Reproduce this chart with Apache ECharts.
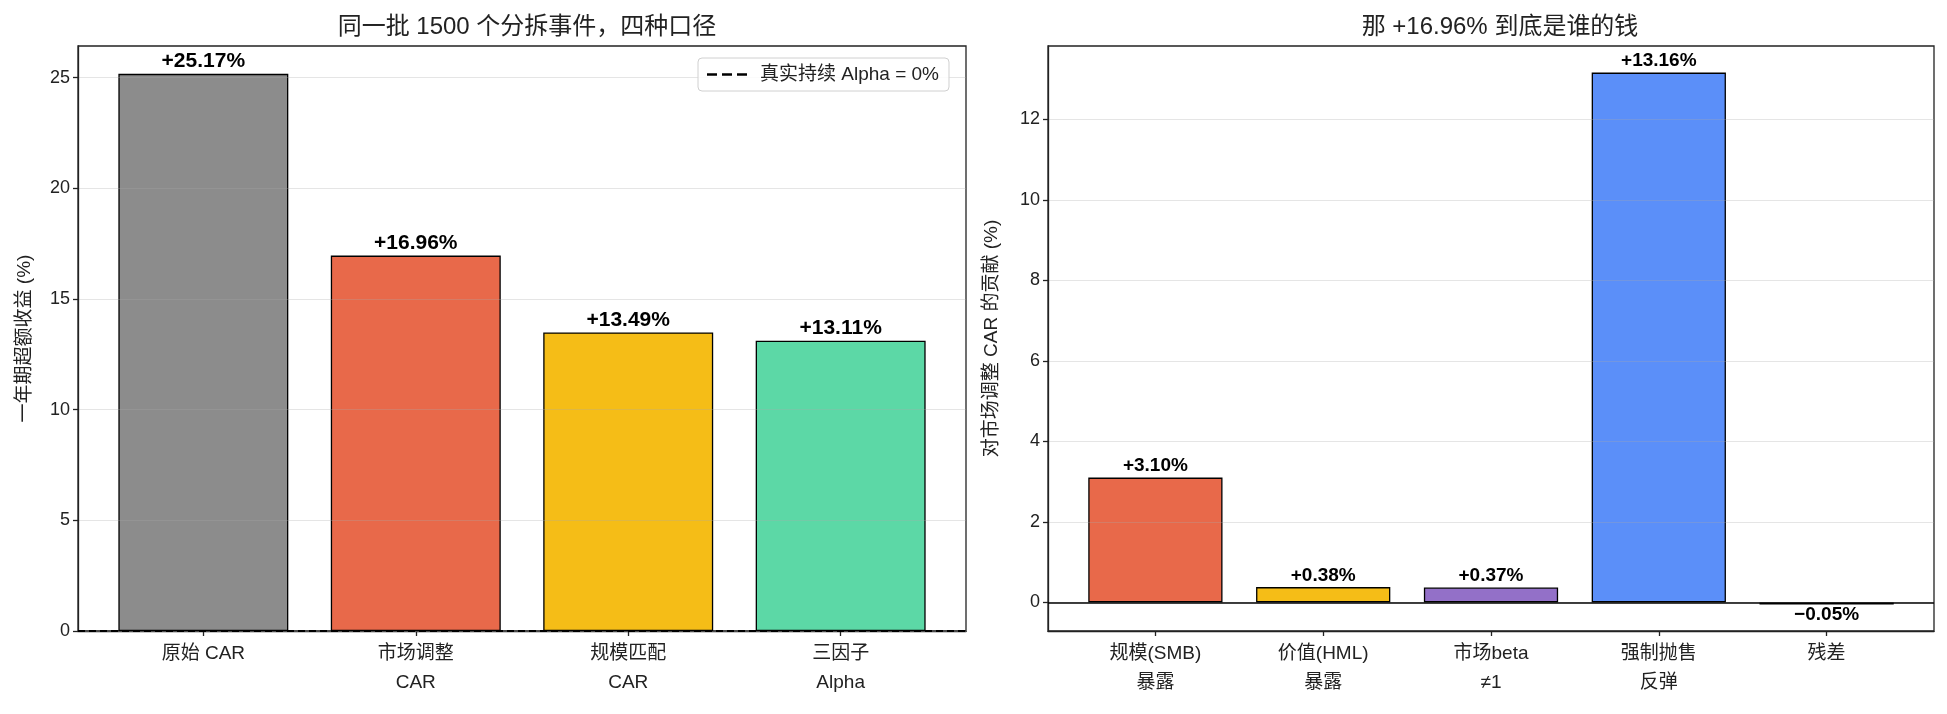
<!DOCTYPE html>
<html>
<head>
<meta charset="utf-8">
<title>分拆事件 CAR 对比</title>
<script src="https://cdn.jsdelivr.net/npm/echarts@6/dist/echarts.min.js"></script>
<style>
  html, body { margin: 0; padding: 0; background: #fff; }
  #chart { width: 1947px; height: 714px; }
</style>
</head>
<body>
<div id="chart"></div>
<script>
'use strict';

// 左图：四种口径
const leftCats = ['原始 CAR', '市场调整\nCAR', '规模匹配\nCAR', '三因子\nAlpha'];
const leftVals = [25.17, 16.96, 13.49, 13.11];
const leftColors = ['#8c8c8c', '#e8694a', '#f5bd17', '#5cd8a6'];
const leftTicks = [0, 5, 10, 15, 20, 25];

// 右图：市场调整 CAR 拆解
const rightCats = ['规模(SMB)\n暴露', '价值(HML)\n暴露', '市场beta\n≠1', '强制抛售\n反弹', '残差'];
const rightVals = [3.10, 0.38, 0.37, 13.16, -0.05];
const rightColors = ['#e8694a', '#f5bd17', '#9370c8', '#5b8ff9', '#222222'];
const rightTicks = [0, 2, 4, 6, 8, 10, 12];

const FONT = '"Liberation Sans", "Noto Sans CJK SC", sans-serif';
const INK = '#222';
// 图例里的虚线图标
const DASH_ICON = 'path://M0,0 h8 v2 h-8 z M12,0 h8 v2 h-8 z M24,0 h8 v2 h-8 z';

(function () {
  const chart = echarts.init(document.getElementById('chart'), null, { renderer: 'canvas' });

  // matplotlib 风格的轴范围：柱宽 0.8，两端各留 5% 边距
  function xRange(n) {
    const lo = -0.4, hi = n - 1 + 0.4, m = (hi - lo) * 0.05;
    return [lo - m, hi + m];
  }
  function yRange(vals) {
    const lo = Math.min(0, ...vals), hi = Math.max(0, ...vals), m = (hi - lo) * 0.05;
    return [lo < 0 ? lo - m : 0, hi + m];
  }
  const fmtPct = v => (v < 0 ? '\u2212' : '+') + Math.abs(v).toFixed(2) + '%';

  const lx = xRange(leftCats.length), rx = xRange(rightCats.length);
  const ly = yRange(leftVals), ry = yRange(rightVals);

  const gridL = { left: 78, right: 981, top: 46, bottom: 83 };
  const gridR = { left: 1048, right: 13, top: 46, bottom: 83 };
  const pxPerUnitL = (1947 - gridL.left - gridL.right) / (lx[1] - lx[0]);
  const pxPerUnitR = (1947 - gridR.left - gridR.right) / (rx[1] - rx[0]);

  function xAxisCfg(idx, range, cats) {
    return {
      type: 'value', gridIndex: idx, min: range[0], max: range[1],
      axisLine: { show: true, onZero: false, lineStyle: { color: INK, width: 1.3 } },
      axisTick: { show: true, length: 5, lineStyle: { color: INK, width: 1.3 },
        customValues: cats.map((c, i) => i) },
      axisLabel: { show: true, color: INK, fontSize: 19, fontFamily: FONT, lineHeight: 29, margin: 8,
        customValues: cats.map((c, i) => i),
        formatter: v => cats[Math.round(v)] || '' },
      splitLine: { show: false }
    };
  }
  function yAxisCfg(idx, range, ticks, name, gap) {
    return {
      type: 'value', gridIndex: idx, min: range[0], max: range[1], z: 3,
      name: name, nameLocation: 'middle', nameGap: gap, nameRotate: 90,
      nameTextStyle: { color: INK, fontSize: 19, fontFamily: FONT },
      axisLine: { show: true, onZero: false, lineStyle: { color: INK, width: 1.3 } },
      axisTick: { show: true, length: 5, lineStyle: { color: INK, width: 1.3 }, customValues: ticks },
      axisLabel: { color: INK, fontSize: 18, fontFamily: FONT, margin: 8, customValues: ticks },
      splitLine: { show: true, lineStyle: { color: 'rgba(170,170,170,0.3)', width: 1.2 } }
    };
  }
  function barData(vals, colors) {
    return vals.map((v, i) => ({
      value: [i, v],
      itemStyle: { color: colors[i] },
      label: { position: v < 0 ? 'bottom' : 'top', distance: v < 0 ? 1 : 2 }
    }));
  }

  const option = {
    backgroundColor: '#fff',
    animation: false,
    textStyle: { fontFamily: FONT },
    title: [
      { text: '同一批 1500 个分拆事件，四种口径', left: 522, top: 10, textAlign: 'center',
        textStyle: { fontSize: 24, fontWeight: 'normal', color: INK, fontFamily: FONT } },
      { text: '那 +16.96% 到底是谁的钱', left: 1495, top: 10, textAlign: 'center',
        textStyle: { fontSize: 24, fontWeight: 'normal', color: INK, fontFamily: FONT } }
    ],
    legend: {
      data: [{ name: '真实持续 Alpha = 0%', icon: DASH_ICON }],
      left: 698, top: 58,
      itemWidth: 40, itemHeight: 2.6, itemGap: 8,
      padding: [7, 10, 7, 9],
      borderColor: '#d0d0d0', borderWidth: 1, borderRadius: 4,
      backgroundColor: 'rgba(255,255,255,0.85)',
      textStyle: { fontSize: 19, color: INK, fontFamily: FONT, padding: [0, 0, 0, 8] }
    },
    grid: [
      Object.assign({ show: true, borderColor: INK, borderWidth: 1.3 }, gridL),
      Object.assign({ show: true, borderColor: INK, borderWidth: 1.3 }, gridR)
    ],
    xAxis: [xAxisCfg(0, lx, leftCats), xAxisCfg(1, rx, rightCats)],
    yAxis: [
      yAxisCfg(0, ly, leftTicks, '一年期超额收益 (%)', 44),
      yAxisCfg(1, ry, rightTicks, '对市场调整 CAR 的贡献 (%)', 47)
    ],
    series: [
      {
        name: '四种口径', type: 'bar', xAxisIndex: 0, yAxisIndex: 0,
        barWidth: pxPerUnitL * 0.8,
        data: barData(leftVals, leftColors),
        itemStyle: { borderColor: '#000', borderWidth: 1.3 },
        label: { show: true, color: '#000', fontSize: 21, fontWeight: 600, fontFamily: FONT,
          formatter: p => fmtPct(p.value[1]) }
      },
      {
        name: '真实持续 Alpha = 0%', type: 'line', xAxisIndex: 0, yAxisIndex: 0,
        data: [], symbol: 'none',
        lineStyle: { color: '#000', type: [7, 4], width: 2 },
        itemStyle: { color: '#000' },
        markLine: {
          silent: true, symbol: ['none', 'none'], label: { show: false },
          lineStyle: { color: '#000', type: [7, 4], width: 2 },
          data: [{ yAxis: 0 }]
        }
      },
      {
        name: '拆解', type: 'bar', xAxisIndex: 1, yAxisIndex: 1,
        barWidth: pxPerUnitR * 0.8,
        data: barData(rightVals, rightColors),
        itemStyle: { borderColor: '#000', borderWidth: 1.3 },
        label: { show: true, color: '#000', fontSize: 19, fontWeight: 600, fontFamily: FONT,
          formatter: p => fmtPct(p.value[1]) },
        markLine: {
          silent: true, symbol: ['none', 'none'], label: { show: false },
          lineStyle: { color: '#000', type: 'solid', width: 1.6 },
          data: [{ yAxis: 0 }]
        }
      }
    ]
  };

  chart.setOption(option);
  window.addEventListener('resize', chart.resize);
})();
</script>
</body>
</html>
